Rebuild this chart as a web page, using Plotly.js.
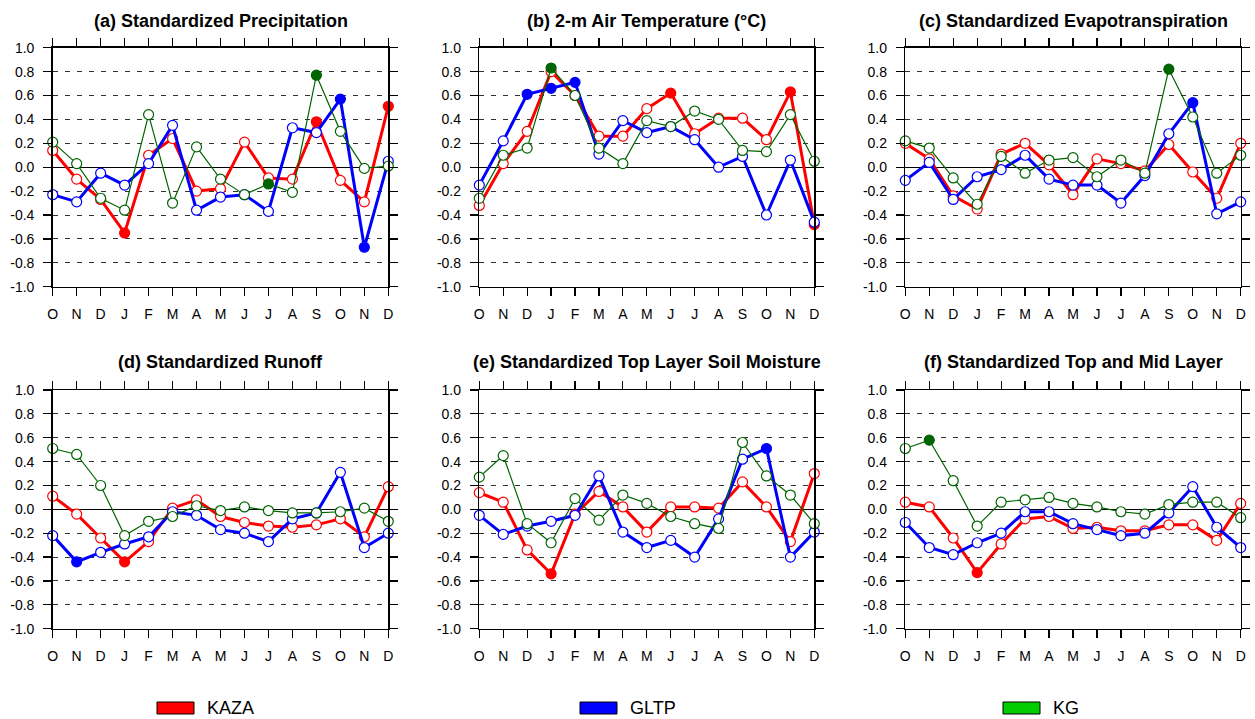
<!DOCTYPE html>
<html>
<head>
<meta charset="utf-8">
<script src="https://cdn.plot.ly/plotly-3.0.1.min.js"></script>
<style>html,body{margin:0;padding:0;background:#fff;}#chart{width:1255px;height:719px;}</style>
</head>
<body>
<div id="chart"></div>
<script>
// ---------------- DATA ----------------
const months = ['O','N','D','J','F','M','A','M','J','J','A','S','O','N','D'];
const yTickVals = [-1.0,-0.8,-0.6,-0.4,-0.2,0.0,0.2,0.4,0.6,0.8,1.0];
const yTickText = ['-1.0','-0.8','-0.6','-0.4','-0.2','0.0','0.2','0.4','0.6','0.8','1.0'];
const seriesNames = ['KAZA','GLTP','KG'];
const panelTitles = [
  '(a) Standardized Precipitation',
  '(b) 2-m Air Temperature (°C)',
  '(c) Standardized Evapotranspiration',
  '(d) Standardized Runoff',
  '(e) Standardized Top Layer Soil Moisture',
  '(f) Standardized Top and Mid Layer'
];

// (a) precipitation
const precipKAZA = [0.14,-0.10,-0.27,-0.55,0.10,0.24,-0.20,-0.18,0.21,-0.09,-0.10,0.38,-0.11,-0.29,0.51];
const precipGLTP = [-0.23,-0.29,-0.05,-0.15,0.03,0.35,-0.36,-0.25,-0.23,-0.37,0.33,0.29,0.57,-0.67,0.05];
const precipKG   = [0.21,0.03,-0.26,-0.36,0.44,-0.30,0.17,-0.10,-0.23,-0.14,-0.21,0.77,0.30,-0.01,0.01];
const precipSigKAZA = [3,11,14];
const precipSigGLTP = [12,13];
const precipSigKG   = [9,11];

// (b) air temperature
const tempKAZA = [-0.32,0.03,0.30,0.80,0.60,0.26,0.26,0.49,0.62,0.28,0.41,0.41,0.23,0.63,-0.48];
const tempGLTP = [-0.15,0.22,0.61,0.66,0.71,0.11,0.39,0.29,0.34,0.23,0.00,0.09,-0.40,0.06,-0.46];
const tempKG   = [-0.26,0.10,0.16,0.83,0.60,0.16,0.03,0.39,0.34,0.47,0.40,0.14,0.13,0.44,0.05];
const tempSigKAZA = [8,13,14];
const tempSigGLTP = [2,3,4];
const tempSigKG   = [3];

// (c) evapotranspiration
const evapKAZA = [0.20,0.07,-0.24,-0.35,0.11,0.20,0.02,-0.23,0.07,0.03,-0.03,0.19,-0.04,-0.26,0.20];
const evapGLTP = [-0.11,0.04,-0.27,-0.08,-0.02,0.10,-0.10,-0.15,-0.15,-0.30,-0.07,0.28,0.54,-0.39,-0.29];
const evapKG   = [0.22,0.16,-0.09,-0.31,0.09,-0.05,0.06,0.08,-0.08,0.06,-0.05,0.82,0.42,-0.05,0.10];
const evapSigKAZA = [];
const evapSigGLTP = [12];
const evapSigKG   = [11];

// (d) runoff
const runoffKAZA = [0.11,-0.04,-0.24,-0.44,-0.27,0.01,0.08,-0.06,-0.11,-0.14,-0.15,-0.13,-0.08,-0.23,0.19];
const runoffGLTP = [-0.22,-0.44,-0.36,-0.29,-0.23,-0.02,-0.05,-0.17,-0.20,-0.27,-0.08,-0.03,0.31,-0.32,-0.20];
const runoffKG   = [0.51,0.46,0.20,-0.22,-0.10,-0.06,0.03,-0.01,0.02,-0.01,-0.03,-0.03,-0.02,0.01,-0.10];
const runoffSigKAZA = [3];
const runoffSigGLTP = [1];
const runoffSigKG   = [];

// (e) top layer soil moisture
const topsmKAZA = [0.14,0.06,-0.34,-0.54,-0.04,0.15,0.02,-0.19,0.02,0.02,0.01,0.23,0.02,-0.27,0.30];
const topsmGLTP = [-0.05,-0.21,-0.14,-0.10,-0.05,0.28,-0.19,-0.32,-0.26,-0.40,-0.08,0.42,0.51,-0.40,-0.19];
const topsmKG   = [0.27,0.45,-0.12,-0.28,0.09,-0.09,0.12,0.05,-0.06,-0.12,-0.16,0.56,0.28,0.12,-0.12];
const topsmSigKAZA = [3];
const topsmSigGLTP = [12];
const topsmSigKG   = [];

// (f) top and mid layer soil moisture
const midsmKAZA = [0.06,0.02,-0.24,-0.53,-0.29,-0.08,-0.06,-0.16,-0.15,-0.18,-0.18,-0.13,-0.13,-0.26,0.05];
const midsmGLTP = [-0.11,-0.32,-0.38,-0.28,-0.20,-0.02,-0.02,-0.12,-0.17,-0.22,-0.20,-0.03,0.19,-0.15,-0.32];
const midsmKG   = [0.51,0.58,0.24,-0.14,0.06,0.08,0.10,0.05,0.02,-0.02,-0.04,0.04,0.06,0.06,-0.07];
const midsmSigKAZA = [3];
const midsmSigGLTP = [];
const midsmSigKG   = [1];

// ---------------- STYLE ----------------
const FONT = 'Liberation Sans, Arial, Helvetica, sans-serif';
const lineColors   = {KAZA:'#ff0000', GLTP:'#0000ff', KG:'#006400'};
const legendColors = {KAZA:'#ff0000', GLTP:'#0000ff', KG:'#00cc00'};
const lineWidths   = {KAZA:3, GLTP:3, KG:1.2};

const panels = [
  {title:panelTitles[0], vals:{KAZA:precipKAZA,GLTP:precipGLTP,KG:precipKG}, sig:{KAZA:precipSigKAZA,GLTP:precipSigGLTP,KG:precipSigKG}},
  {title:panelTitles[1], vals:{KAZA:tempKAZA,GLTP:tempGLTP,KG:tempKG}, sig:{KAZA:tempSigKAZA,GLTP:tempSigGLTP,KG:tempSigKG}},
  {title:panelTitles[2], vals:{KAZA:evapKAZA,GLTP:evapGLTP,KG:evapKG}, sig:{KAZA:evapSigKAZA,GLTP:evapSigGLTP,KG:evapSigKG}},
  {title:panelTitles[3], vals:{KAZA:runoffKAZA,GLTP:runoffGLTP,KG:runoffKG}, sig:{KAZA:runoffSigKAZA,GLTP:runoffSigGLTP,KG:runoffSigKG}},
  {title:panelTitles[4], vals:{KAZA:topsmKAZA,GLTP:topsmGLTP,KG:topsmKG}, sig:{KAZA:topsmSigKAZA,GLTP:topsmSigGLTP,KG:topsmSigKG}},
  {title:panelTitles[5], vals:{KAZA:midsmKAZA,GLTP:midsmGLTP,KG:midsmKG}, sig:{KAZA:midsmSigKAZA,GLTP:midsmSigGLTP,KG:midsmSigKG}}
];

const W = 1255, H = 719;
const colPix = [[52.7,388.3],[479.3,814.3],[905.3,1240.7]];
const rowPix = [[47.7,286.7],[390,628.7]];
const xDom = colPix.map(c => [c[0]/W, c[1]/W]);
const yDom = rowPix.map(r => [1 - r[1]/H, 1 - r[0]/H]);
const titleY = [1 - 21/H, 1 - 362/H];

const xIdx = months.map((m,i) => i);
const traces = [];
const layout = {
  width: W, height: H,
  margin: {l:0, r:0, t:0, b:0},
  paper_bgcolor: '#ffffff',
  plot_bgcolor: '#ffffff',
  showlegend: false,
  font: {family: FONT, color: '#000'},
  annotations: [],
  shapes: []
};

panels.forEach((p, k) => {
  const n = k + 1;
  const xa = n === 1 ? 'x' : 'x' + n;
  const ya = n === 1 ? 'y' : 'y' + n;
  const col = k % 3, row = Math.floor(k / 3);
  seriesNames.forEach(s => {
    const v = p.vals[s];
    const fills = v.map((_, i) => p.sig[s].includes(i) ? lineColors[s] : '#ffffff');
    traces.push({
      type: 'scatter', mode: 'lines+markers',
      x: xIdx, y: v, xaxis: xa, yaxis: ya, name: s,
      cliponaxis: false,
      line: {color: lineColors[s], width: lineWidths[s]},
      marker: {symbol: 'circle', size: 10, color: fills, line: {color: lineColors[s], width: 1.2}}
    });
  });
  const axCommon = {
    showline: true, linecolor: '#000', linewidth: 1.5, mirror: 'ticks',
    ticks: 'outside', ticklen: 8, tickwidth: 1.2, tickcolor: '#000',
    tickfont: {family: FONT, size: 14, color: '#000'}
  };
  layout['xaxis' + (n === 1 ? '' : n)] = Object.assign({}, axCommon, {
    domain: xDom[col], anchor: ya, range: [0, 14],
    tickvals: xIdx, ticktext: months, showgrid: false, zeroline: false,
    ticklabelstandoff: 6, fixedrange: true
  });
  layout['yaxis' + (n === 1 ? '' : n)] = Object.assign({}, axCommon, {
    domain: yDom[row], anchor: xa, range: [-1, 1],
    tickvals: yTickVals, ticktext: yTickText,
    showgrid: true, gridcolor: '#333', gridwidth: 1, griddash: '5px,7px',
    zeroline: true, zerolinecolor: '#000', zerolinewidth: 1.2,
    ticklabelstandoff: 6, fixedrange: true
  });
  layout.annotations.push({
    xref: 'paper', yref: 'paper',
    x: (xDom[col][0] + xDom[col][1]) / 2, y: titleY[row],
    xanchor: 'center', yanchor: 'middle', showarrow: false,
    text: '<b>' + p.title + '</b>',
    font: {family: FONT, size: 18, color: '#000'}
  });
});

// legend (boxes + labels)
const legBoxX0 = 157, legBoxW = 37, legStep = 423, legTextGap = 11;
const legY0 = 702, legY1 = 714;
seriesNames.forEach((s, i) => {
  const x0 = legBoxX0 + i * legStep;
  layout.shapes.push({
    type: 'rect', xref: 'paper', yref: 'paper',
    x0: x0 / W, x1: (x0 + legBoxW) / W, y0: 1 - legY1 / H, y1: 1 - legY0 / H,
    fillcolor: legendColors[s], line: {color: '#000', width: 1}
  });
  layout.annotations.push({
    xref: 'paper', yref: 'paper',
    x: (x0 + legBoxW + legTextGap) / W, y: 1 - ((legY0 + legY1) / 2) / H,
    xanchor: 'left', yanchor: 'middle', showarrow: false,
    text: s, font: {family: FONT, size: 18, color: '#000'}
  });
});

Plotly.newPlot('chart', traces, layout, {displayModeBar: false, staticPlot: true});
</script>
</body>
</html>
